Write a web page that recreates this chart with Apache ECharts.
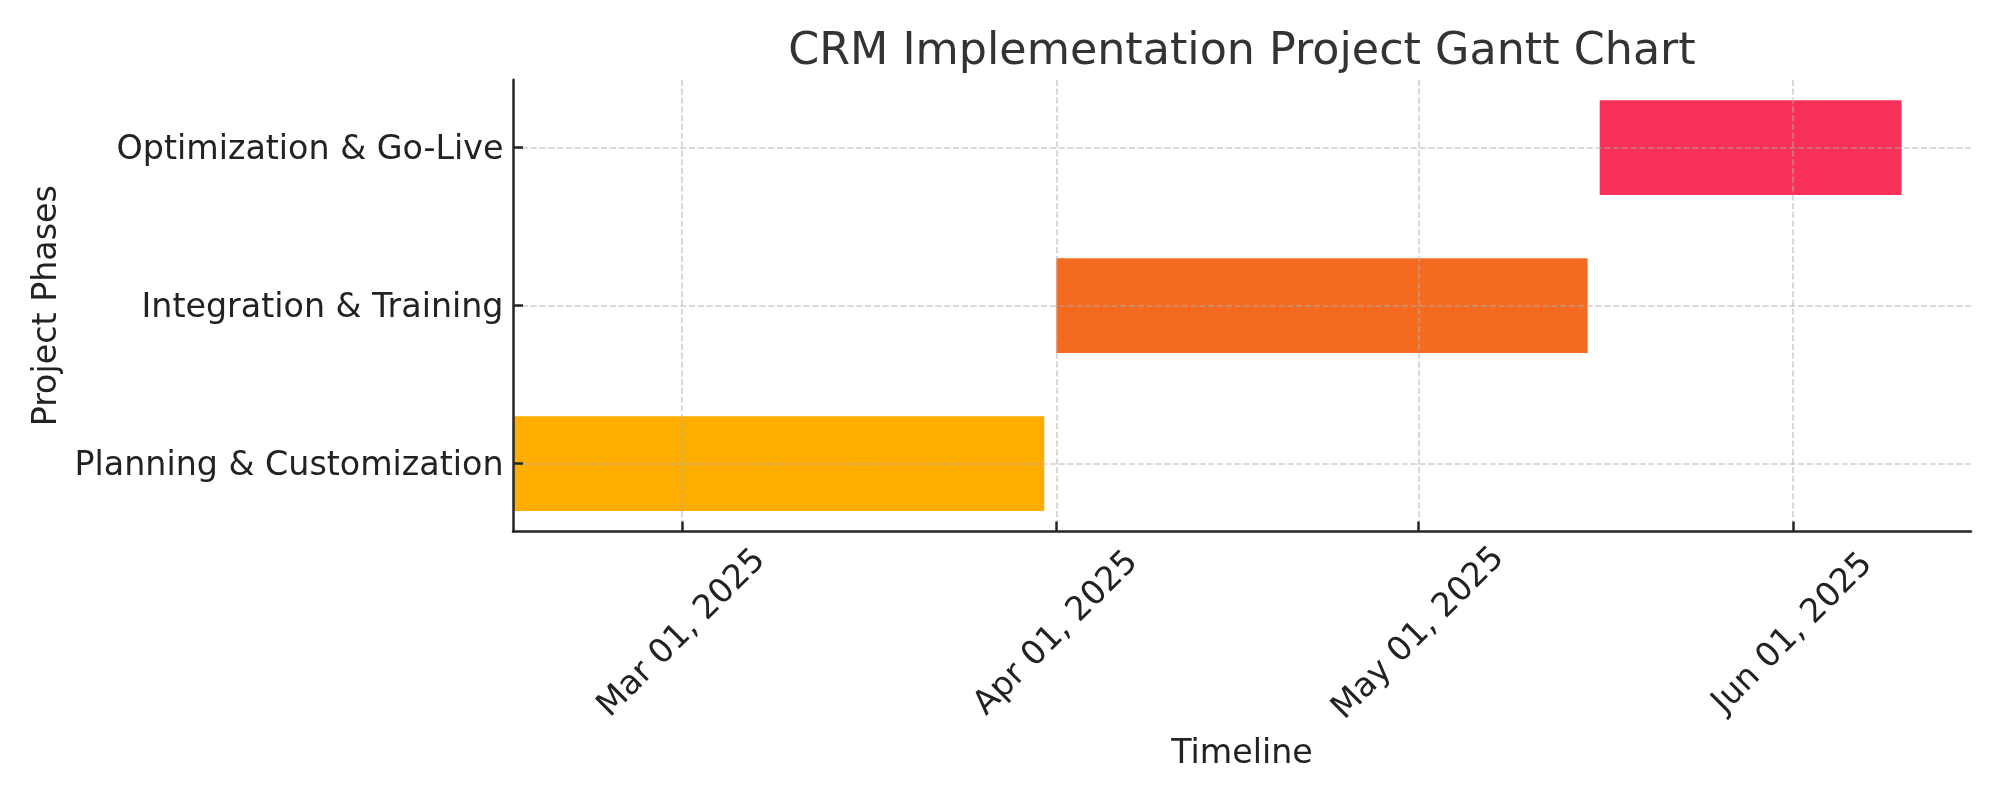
<!DOCTYPE html>
<html><head><meta charset="utf-8">
<script src="https://cdn.jsdelivr.net/npm/echarts@6/dist/echarts.min.js"></script>
<style>html,body{margin:0;padding:0;background:#fff}#c{width:2000px;height:800px}</style>
</head><body><div id="c"></div>
<script>
const phases = ['Planning & Customization', 'Integration & Training', 'Optimization & Go-Live'];
const startDates = ['2025-02-15', '2025-04-01', '2025-05-16'];
const endDates = ['2025-03-31', '2025-05-15', '2025-06-10'];
const phaseColors = ['#FFAE00', '#F46A21', '#F73157'];
const xTickDates = ['2025-03-01', '2025-04-01', '2025-05-01', '2025-06-01'];
const xTickLabels = ['Mar 01, 2025', 'Apr 01, 2025', 'May 01, 2025', 'Jun 01, 2025'];
const yTickValues = [0, 1, 2];
const xRange = ['2025-02-15T00:00:00', '2025-06-15T18:00:00'];
const yRange = [-0.43, 2.43];

function ts(s) { return new Date(s.length === 10 ? s + 'T00:00:00' : s).getTime(); }
const xTickTs = xTickDates.map(ts);
const seriesData = phases.map((p, i) => [ts(startDates[i]), ts(endDates[i]), i]);

const FONT = 'DejaVu Sans';
const gridLine = { show: true, lineStyle: { color: 'rgba(176,176,176,0.6)', width: 1.6, type: [6.2, 2.6] } };
const axisLine = { show: true, onZero: false, lineStyle: { color: '#262626', width: 2.5 } };
const tick = { show: true, inside: true, length: 10, lineStyle: { color: '#262626', width: 2.5 } };

const chart = echarts.init(document.getElementById('c'), null, { renderer: 'canvas' });
chart.setOption({
  animation: false,
  backgroundColor: '#ffffff',
  title: {
    text: 'CRM Implementation Project Gantt Chart',
    left: 1237, top: 25, textAlign: 'center',
    textStyle: { fontFamily: FONT, fontSize: 44.4, fontWeight: 'normal', color: '#333333' }
  },
  grid: { left: 513, right: 29, top: 79.8, bottom: 268.4, containLabel: false, outerBoundsMode: 'none' },
  xAxis: {
    type: 'value', z: 5, scale: true,
    min: ts(xRange[0]), max: ts(xRange[1]),
    name: 'Timeline', nameLocation: 'middle', nameGap: 206,
    nameTextStyle: { fontFamily: FONT, fontSize: 33.3, color: '#222222' },
    axisLine: axisLine,
    axisTick: Object.assign({ customValues: xTickTs }, tick),
    splitLine: gridLine,
    axisLabel: {
      customValues: xTickTs,
      rotate: 45, align: 'center', verticalAlign: 'middle', margin: 102,
      fontFamily: FONT, fontSize: 33.3, color: '#222222', hideOverlap: false,
      formatter: function (v) { const i = xTickTs.indexOf(v); return i >= 0 ? xTickLabels[i] : ''; }
    }
  },
  yAxis: {
    type: 'value', z: 5,
    min: yRange[0], max: yRange[1],
    name: 'Project Phases', nameLocation: 'middle', nameGap: 448, nameRotate: 90,
    nameTextStyle: { fontFamily: FONT, fontSize: 33.3, color: '#222222' },
    axisLine: axisLine,
    axisTick: Object.assign({ customValues: yTickValues }, tick),
    splitLine: gridLine,
    axisLabel: {
      customValues: yTickValues, margin: 9.5,
      fontFamily: FONT, fontSize: 33.3, color: '#222222',
      formatter: function (v) { const n = phases[Math.round(v)]; return n ? '{p|' + n + '}' : ''; },
      rich: { p: { fontFamily: FONT, fontSize: 33.3, color: '#222222', padding: [6, 0, 0, 0] } }
    }
  },
  series: [{
    type: 'custom', z: 1,
    encode: { x: [0, 1], y: 2 },
    data: seriesData,
    renderItem: function (params, api) {
      const i = api.value(2);
      const s = api.coord([api.value(0), i]);
      const e = api.coord([api.value(1), i]);
      const h = api.size([0, 0.6])[1];
      return { type: 'rect', shape: { x: s[0], y: s[1] - h / 2, width: e[0] - s[0], height: h },
               style: { fill: phaseColors[i] } };
    }
  }]
});
</script></body></html>
